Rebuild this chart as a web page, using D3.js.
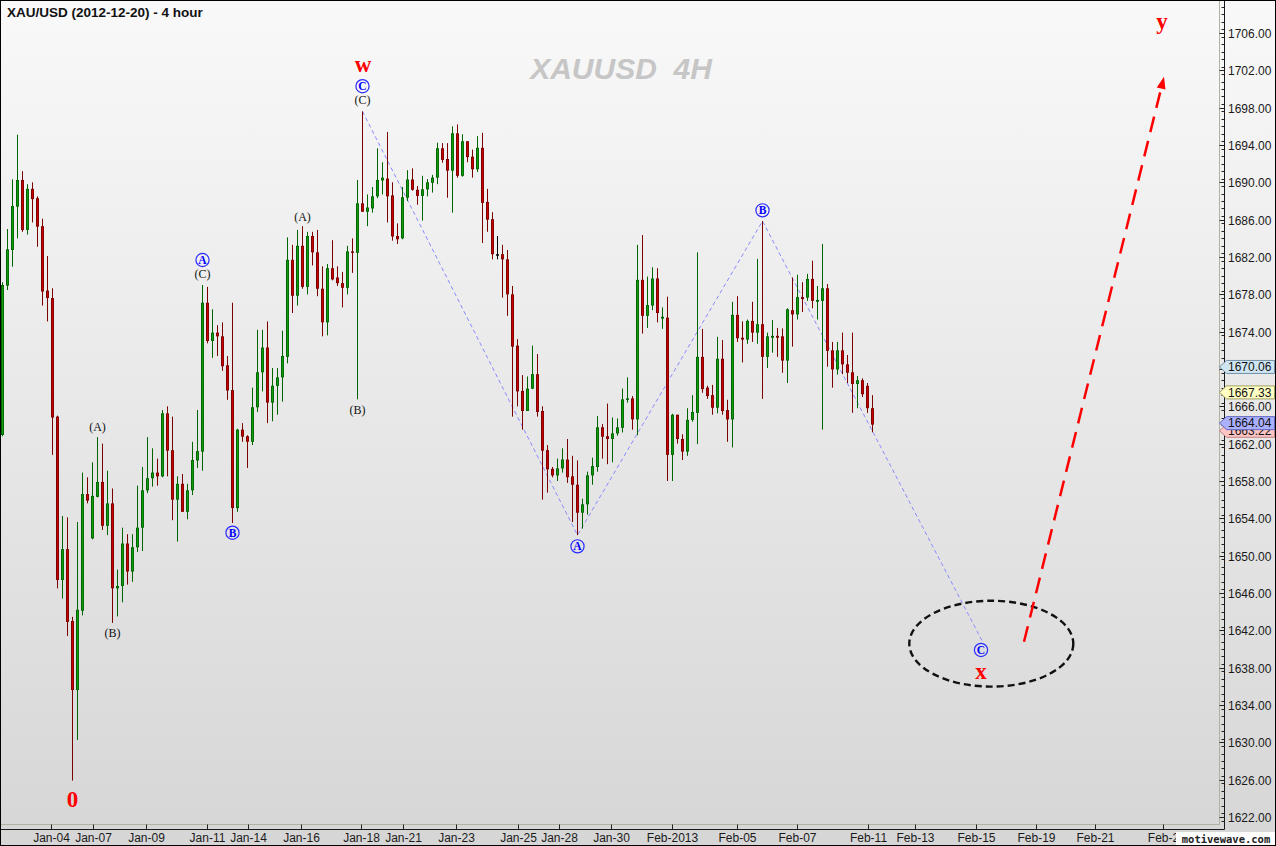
<!DOCTYPE html>
<html><head><meta charset="utf-8">
<script src="https://cdn.jsdelivr.net/npm/d3@7"></script>
<style>html,body{margin:0;padding:0;background:#fff}svg{display:block}</style>
</head><body>
<svg id="chart" width="1276" height="846"></svg>
<script>
// ---------- data ----------
const opens = [1662.93,1678.93,1682.75,1687.4,1690.25,1684.9,1689.3,1688.3,1685.3,1678.4,
1677.6,1664.9,1647.4,1650.7,1643.0,1635.6,1644.1,1656.6,1651.85,1656.3,
1657.9,1653.2,1655.6,1646.5,1646.75,1651.3,1648.3,1650.9,1653.0,1657.0,
1658.3,1658.9,1658.5,1665.25,1661.3,1656.0,1657.7,1654.7,1657.0,1660.2,
1661.15,1677.1,1673.0,1673.9,1673.5,1670.4,1667.75,1655.1,1663.5,1662.8,
1662.2,1665.9,1669.65,1672.3,1666.4,1668.2,1669.1,1671.3,1681.7,1677.85,
1683.2,1678.8,1684.25,1682.5,1678.6,1675.0,1680.8,1679.8,1679.2,1678.7,
1682.6,1682.45,1687.75,1686.85,1687.2,1688.5,1690.2,1690.4,1688.6,1684.25,
1684.0,1688.35,1690.3,1689.2,1688.55,1689.25,1689.95,1690.5,1693.65,1692.5,
1691.25,1695.25,1690.7,1694.4,1692.75,1691.4,1693.7,1687.9,1686.05,1682.3,
1682.3,1681.75,1678.0,1672.5,1667.65,1665.5,1667.9,1669.45,1665.5,1661.3,
1659.3,1658.6,1659.35,1660.3,1658.5,1657.6,1654.6,1655.5,1658.6,1659.5,
1663.75,1662.8,1662.5,1663.1,1663.7,1666.7,1666.85,1664.6,1679.55,1675.7,
1676.8,1679.7,1675.4,1675.5,1660.8,1665.1,1662.5,1661.15,1664.55,1665.3,
1671.3,1668.0,1667.2,1665.85,1671.1,1665.6,1664.6,1675.8,1673.35,1673.15,
1675.15,1673.9,1674.8,1671.3,1673.35,1673.55,1673.5,1670.9,1676.3,1675.85,
1677.7,1677.65,1679.65,1677.2,1677.3,1678.65,1672.0,1669.95,1672.0,1670.5,
1669.65,1668.4,1668.8,1668.2,1665.8];
const highs = [1679.29,1685.0,1690.32,1695.1,1691.2,1689.8,1690.0,1688.5,1686.1,1682.1,
1678.65,1665.0,1654.25,1654.1,1643.45,1653.6,1658.9,1658.4,1660.0,1662.7,
1662.0,1659.1,1657.2,1648.5,1653.0,1652.3,1652.3,1657.5,1659.5,1662.7,
1661.5,1660.4,1665.6,1666.0,1664.9,1658.5,1658.75,1657.7,1662.2,1665.6,
1679.0,1678.8,1676.4,1674.7,1675.0,1671.4,1677.1,1663.6,1664.2,1662.9,
1668.0,1674.2,1674.2,1675.1,1670.1,1670.1,1674.1,1684.1,1683.3,1684.9,
1685.3,1684.7,1684.7,1684.9,1681.0,1681.25,1683.8,1681.0,1680.4,1683.2,
1684.0,1690.25,1697.6,1688.7,1689.5,1693.65,1692.15,1695.4,1690.0,1685.6,
1689.5,1691.3,1691.5,1689.6,1690.7,1690.35,1690.8,1694.25,1694.2,1694.2,
1696.0,1696.2,1695.15,1694.4,1693.5,1694.95,1695.3,1689.3,1686.8,1684.25,
1683.3,1682.75,1678.9,1673.2,1669.35,1669.2,1672.5,1671.6,1666.0,1661.85,
1659.5,1660.4,1661.5,1662.5,1660.7,1660.2,1656.1,1659.0,1660.5,1664.95,
1664.1,1666.3,1664.8,1664.7,1667.9,1669.1,1667.1,1683.3,1684.35,1679.9,
1680.9,1680.8,1676.6,1677.75,1665.2,1665.1,1663.0,1665.8,1667.2,1682.5,
1674.3,1668.2,1668.3,1673.45,1673.1,1666.7,1677.2,1677.8,1675.1,1675.3,
1677.2,1681.8,1685.85,1673.9,1675.25,1674.4,1674.35,1676.5,1679.8,1680.1,
1679.3,1680.2,1681.6,1678.9,1683.4,1679.1,1672.9,1672.9,1673.9,1671.5,
1673.9,1669.25,1669.0,1668.5,1667.2];
const lows = [1662.8,1678.46,1680.96,1684.0,1684.7,1684.4,1685.7,1683.1,1676.8,1675.1,
1660.8,1646.5,1645.4,1641.4,1625.9,1630.25,1643.6,1655.6,1651.75,1656.25,
1652.75,1652.2,1642.8,1643.5,1645.0,1646.9,1647.2,1650.4,1650.5,1656.7,
1657.4,1657.5,1658.4,1658.5,1653.8,1651.5,1654.7,1653.9,1656.5,1659.4,
1659.1,1672.75,1671.2,1671.4,1669.8,1666.7,1653.5,1654.7,1662.2,1659.4,
1661.85,1665.4,1667.6,1664.2,1664.4,1665.1,1666.5,1670.6,1676.0,1676.8,
1678.6,1678.0,1681.1,1677.8,1673.5,1673.6,1679.5,1678.9,1676.6,1678.0,
1680.3,1666.75,1686.85,1685.3,1686.75,1688.3,1688.7,1685.7,1683.75,1683.4,
1683.9,1688.0,1689.1,1687.6,1685.9,1688.5,1688.9,1689.8,1692.1,1688.35,
1686.75,1690.5,1690.6,1692.15,1690.5,1691.1,1683.5,1684.7,1681.75,1681.75,
1677.65,1675.7,1664.9,1666.0,1663.5,1665.5,1667.85,1664.9,1656.0,1656.75,
1658.4,1658.0,1658.9,1657.8,1653.6,1652.2,1652.9,1654.4,1657.6,1659.0,
1660.4,1659.8,1660.0,1662.85,1663.2,1666.4,1663.5,1662.9,1673.8,1674.4,
1676.3,1675.0,1674.3,1658.0,1658.0,1662.0,1660.25,1660.7,1664.35,1661.95,
1667.45,1666.8,1665.1,1665.25,1665.1,1662.2,1661.6,1672.9,1670.7,1672.7,
1672.9,1672.7,1666.8,1670.1,1671.75,1671.3,1669.6,1668.5,1672.4,1675.3,
1676.1,1677.3,1676.5,1675.3,1663.5,1670.25,1668.0,1669.4,1669.45,1668.5,
1665.3,1665.8,1667.0,1665.3,1663.22];
const closes = [1679.0,1682.82,1687.46,1690.25,1684.9,1689.3,1688.2,1685.25,1678.3,1677.6,
1664.8,1647.4,1650.7,1642.9,1635.6,1644.2,1656.6,1655.9,1656.4,1657.9,
1653.2,1655.6,1646.5,1646.75,1651.3,1648.3,1650.9,1653.0,1657.0,1658.3,
1658.9,1658.5,1665.25,1661.25,1656.0,1657.7,1654.7,1657.0,1660.25,1661.2,
1677.1,1673.0,1673.9,1673.5,1670.3,1667.7,1655.1,1663.5,1662.75,1662.2,
1665.9,1669.65,1672.3,1666.4,1668.2,1669.1,1671.4,1681.7,1677.85,1683.2,
1678.8,1684.25,1682.5,1678.6,1675.0,1680.8,1679.6,1679.2,1678.7,1682.6,
1682.45,1687.75,1686.85,1687.3,1688.5,1690.25,1690.5,1688.5,1684.2,1683.9,
1688.4,1690.3,1689.2,1688.55,1689.25,1690.0,1690.5,1693.65,1692.4,1691.25,
1695.25,1690.7,1694.4,1692.7,1691.4,1693.7,1687.8,1686.0,1682.3,1682.3,
1681.75,1678.0,1672.4,1667.6,1665.5,1667.9,1669.45,1665.4,1661.25,1659.25,
1658.6,1659.35,1660.3,1658.4,1657.6,1654.6,1655.5,1658.6,1659.6,1663.75,
1662.75,1662.5,1663.1,1663.75,1666.75,1666.85,1664.6,1679.55,1675.7,1676.85,
1679.7,1676.0,1675.6,1660.8,1665.1,1662.5,1661.15,1664.55,1665.4,1671.3,
1667.85,1667.1,1665.85,1671.1,1665.5,1664.6,1675.8,1673.3,1673.15,1675.15,
1673.9,1674.8,1671.3,1673.5,1673.55,1673.35,1670.9,1676.4,1675.85,1677.7,
1677.5,1679.65,1677.3,1677.4,1678.65,1671.95,1669.95,1672.0,1670.5,1669.6,
1668.4,1668.8,1667.3,1665.8,1664.04];

const priceTicks = d3.range(1622, 1707, 4);
const dateTickBars   = [9.7,18.1,28.7,40.9,49.1,59.7,71.7,80.1,90.7,103.0,111.2,121.8,133.8,146.8,158.8,173.0,182.6,194.6,206.6,218.6,232.0];
const dateTickLabels = ["Jan-04","Jan-07","Jan-09","Jan-11","Jan-14","Jan-16","Jan-18","Jan-21","Jan-23","Jan-25","Jan-28","Jan-30","Feb-2013","Feb-05","Feb-07","Feb-11","Feb-13","Feb-15","Feb-19","Feb-21","Feb-2"];

const flagValues = [1663.22, 1664.04, 1667.33, 1670.06];
const flagFills  = ["#ffc4c4", "#aab0ff", "#ffffc4", "#cfe6f2"];
const flagStrokes= ["#c08080", "#6068c0", "#a0a060", "#7090a8"];

// wave path (bar, price)
const waveBars   = [72, 115, 152, 195.9];
const wavePrices = [1697.6, 1652.2, 1685.85, 1640.9];

// circled wave labels
const circBars   = [40, 46, 72, 115, 152, 195.7];
const circPrices = [1681.68, 1652.46, 1700.3, 1651.0, 1687.0, 1639.9];
const circTexts  = ["A", "B", "C", "A", "B", "C"];

// bracket wave labels
const brBars   = [19, 22, 40, 60, 71, 72];
const brPrices = [1663.75, 1641.7, 1680.15, 1686.3, 1665.65, 1698.8];
const brTexts  = ["(A)", "(B)", "(C)", "(A)", "(B)", "(C)"];

// red degree labels
const redBars   = [14, 72.1, 195.7, 231.9];
const redPrices = [1623.9, 1702.36, 1637.3, 1706.75];
const redTexts  = ["0", "w", "x", "y"];

// projection ellipse + arrow
const ellipseBar = 197.76, ellipsePrice = 1640.57, ellipseBarsR = 16.4, ellipsePriceR = 4.6;
const arrowBars = [204.3, 232.3], arrowPrices = [1640.78, 1701.3];

// ---------- layout ----------
const W = 1276, H = 846;
const plotR = 1219, plotB = 824, axisR = 1224, axisB = 829;
const svg = d3.select("#chart");
const x = d3.scaleLinear().domain([-0.5, 243.3]).range([0, plotR]);
const y = d3.scaleLinear().domain([1622, 1706]).range([817, 33]);

const defs = svg.append("defs");
const g1 = defs.append("linearGradient").attr("id","bg").attr("x1",0).attr("y1",0).attr("x2",0).attr("y2",1);
g1.append("stop").attr("offset","0%").attr("stop-color","#f9f9f9");
g1.append("stop").attr("offset","100%").attr("stop-color","#d6d6d6");
svg.append("rect").attr("width",W).attr("height",H).attr("fill","url(#bg)");

defs.append("clipPath").attr("id","plotclip").append("rect").attr("x",0).attr("y",0).attr("width",plotR).attr("height",plotB);

// title
svg.append("text").attr("x",7).attr("y",17).attr("font-family","Liberation Sans, Arial, sans-serif")
  .attr("font-size",13.5).attr("font-weight","bold").attr("fill","#111").text("XAU/USD (2012-12-20) - 4 hour");

// watermark
svg.append("text").attr("x",621).attr("y",79).attr("text-anchor","middle")
  .attr("font-family","Liberation Sans, Arial, sans-serif").attr("font-size",30).attr("font-weight","bold")
  .attr("font-style","italic").attr("fill","#c6c6c6").attr("xml:space","preserve").text("XAUUSD  4H");

const plot = svg.append("g").attr("clip-path","url(#plotclip)");

// wave lines
const waveLine = d3.line().x(d=>x(d[0])).y(d=>y(d[1]));
plot.append("path").datum(waveBars.map((b,i)=>[b,wavePrices[i]]))
  .attr("d",waveLine).attr("fill","none").attr("stroke","#8a8aff").attr("stroke-width",1).attr("stroke-dasharray","4,3");

// candles
const candles = plot.append("g");
opens.forEach((o,i)=>{
  const c = closes[i], h = highs[i], l = lows[i];
  const up = c > o, flat = c === o;
  const dark = flat ? "#000" : (up ? "#006400" : "#7a0000");
  const bright = flat ? "#000" : (up ? "#0f9a0f" : "#c80000");
  const cx = x(i);
  candles.append("line").attr("x1",cx).attr("x2",cx).attr("y1",y(h)).attr("y2",y(l))
    .attr("stroke",dark).attr("stroke-width",1);
  const top = y(Math.max(o,c)), bot = y(Math.min(o,c));
  const hgt = Math.max(1.5, bot-top);
  candles.append("rect").attr("x",cx-1.5).attr("y",top).attr("width",3).attr("height",hgt).attr("fill",dark);
  if (hgt > 2) candles.append("rect").attr("x",cx-0.5).attr("y",top+0.8).attr("width",1.2).attr("height",hgt-1.6).attr("fill",bright);
});

// ellipse
plot.append("ellipse").attr("cx",x(ellipseBar)).attr("cy",y(ellipsePrice))
  .attr("rx",x(ellipseBar+ellipseBarsR)-x(ellipseBar)).attr("ry",y(ellipsePrice-ellipsePriceR)-y(ellipsePrice))
  .attr("fill","none").attr("stroke","#111").attr("stroke-width",2.4).attr("stroke-dasharray","7,4");

// red arrow
{
  const x1=x(arrowBars[0]), y1=y(arrowPrices[0]), x2=x(arrowBars[1]), y2=y(arrowPrices[1]);
  const ang = Math.atan2(y2-y1, x2-x1), len=12, wid=4.5;
  const bx = x2 - len*Math.cos(ang), by = y2 - len*Math.sin(ang);
  plot.append("line").attr("x1",x1).attr("y1",y1).attr("x2",bx).attr("y2",by)
    .attr("stroke","#ff0000").attr("stroke-width",2.5).attr("stroke-dasharray","16,9");
  const px = -Math.sin(ang)*wid, py = Math.cos(ang)*wid;
  plot.append("path").attr("d",`M${x2},${y2}L${bx+px},${by+py}L${bx-px},${by-py}Z`).attr("fill","#ff0000");
}

// circled labels
circBars.forEach((b,i)=>{
  const cx=x(b), cy=y(circPrices[i]);
  plot.append("circle").attr("cx",cx).attr("cy",cy).attr("r",6.6).attr("fill","none").attr("stroke","#2a2aff").attr("stroke-width",1.2);
  plot.append("text").attr("x",cx).attr("y",cy+4).attr("text-anchor","middle")
    .attr("font-family","Liberation Serif, Times New Roman, serif").attr("font-weight","bold").attr("font-size",11.5)
    .attr("fill","#0000ff").text(circTexts[i]);
});
brBars.forEach((b,i)=>{
  plot.append("text").attr("x",x(b)).attr("y",y(brPrices[i])+4).attr("text-anchor","middle")
    .attr("font-family","Liberation Serif, Times New Roman, serif").attr("font-size",12).attr("fill","#111").text(brTexts[i]);
});
redBars.forEach((b,i)=>{
  plot.append("text").attr("x",x(b)).attr("y",y(redPrices[i])+ (redTexts[i]==="0"?7.5:(redTexts[i]==="y"?3:5))).attr("text-anchor","middle")
    .attr("font-family","Liberation Serif, Times New Roman, serif").attr("font-weight","bold").attr("font-size",23)
    .attr("fill","#ff0000").text(redTexts[i]);
});

// frame lines
svg.append("line").attr("x1",plotR+0.5).attr("x2",plotR+0.5).attr("y1",0).attr("y2",plotB+0.5).attr("stroke","#b2b2a0");
svg.append("line").attr("x1",0).attr("x2",plotR+0.5).attr("y1",plotB+0.5).attr("y2",plotB+0.5).attr("stroke","#b2b2a0");
svg.append("line").attr("x1",axisR+0.5).attr("x2",axisR+0.5).attr("y1",0).attr("y2",axisB+0.5).attr("stroke","#1a1a1a");
svg.append("line").attr("x1",0).attr("x2",axisR+0.5).attr("y1",axisB+0.5).attr("y2",axisB+0.5).attr("stroke","#1a1a1a");

// y axis
const yAxisG = svg.append("g");
d3.range(1621.6, 1709.6, 0.8).forEach(v=>{
  const yy = Math.round(y(v))+0.5;
  if (yy < 1 || yy > plotB) return;
  yAxisG.append("line").attr("x1",axisR-2.5).attr("x2",axisR).attr("y1",yy).attr("y2",yy).attr("stroke","#222");
});
const flagYs = flagValues.map(v => y(v) - 1.5);
priceTicks.forEach(v=>{
  const yy = Math.round(y(v))+0.5;
  yAxisG.append("line").attr("x1",plotR+0.5).attr("x2",axisR).attr("y1",yy).attr("y2",yy).attr("stroke","#222");
  // a label fully hidden behind an opaque price flag is not drawn (as in the reference)
  if (flagYs.some(fy => Math.abs(fy - yy) < 7)) return;
  yAxisG.append("text").attr("x",1228).attr("y",yy+4.3).attr("font-family","Liberation Sans, Arial, sans-serif")
    .attr("font-size",12).attr("fill","#1a1a1a").text(v.toFixed(2));
});

// x axis
dateTickBars.forEach((b,i)=>{
  const xx = Math.round(x(b))+0.5;
  svg.append("line").attr("x1",xx).attr("x2",xx).attr("y1",plotB+0.5).attr("y2",axisB).attr("stroke","#222");
  svg.append("text").attr("x",xx).attr("y",842).attr("text-anchor","middle").attr("font-family","Liberation Sans, Arial, sans-serif")
    .attr("font-size",12).attr("fill","#1a1a1a").text(dateTickLabels[i]);
});

// price flags
flagValues.forEach((v,i)=>{
  const cy = flagYs[i];
  svg.append("path").attr("d",`M${plotR+0.5},${cy}L${1226.5},${cy-6.5}L${1274.5},${cy-6.5}L${1274.5},${cy+6.5}L${1226.5},${cy+6.5}Z`)
    .attr("fill",flagFills[i]).attr("stroke",flagStrokes[i]).attr("stroke-width",1);
  svg.append("text").attr("x",1228).attr("y",cy+4.3).attr("font-family","Liberation Sans, Arial, sans-serif")
    .attr("font-size",12).attr("fill","#111").text(v.toFixed(2));
});

// motivewave box
svg.append("rect").attr("x",1176).attr("y",832).attr("width",100).attr("height",14).attr("fill","#fff");
svg.append("text").attr("x",1226).attr("y",843).attr("text-anchor","middle").attr("font-family","DejaVu Sans Mono, monospace")
  .attr("font-size",10.5).attr("font-weight","bold").attr("fill","#222").text("motivewave.com");

// outer border
svg.append("rect").attr("x",0.5).attr("y",0.5).attr("width",W-1).attr("height",H-1).attr("fill","none").attr("stroke","#000");
</script>
</body></html>
